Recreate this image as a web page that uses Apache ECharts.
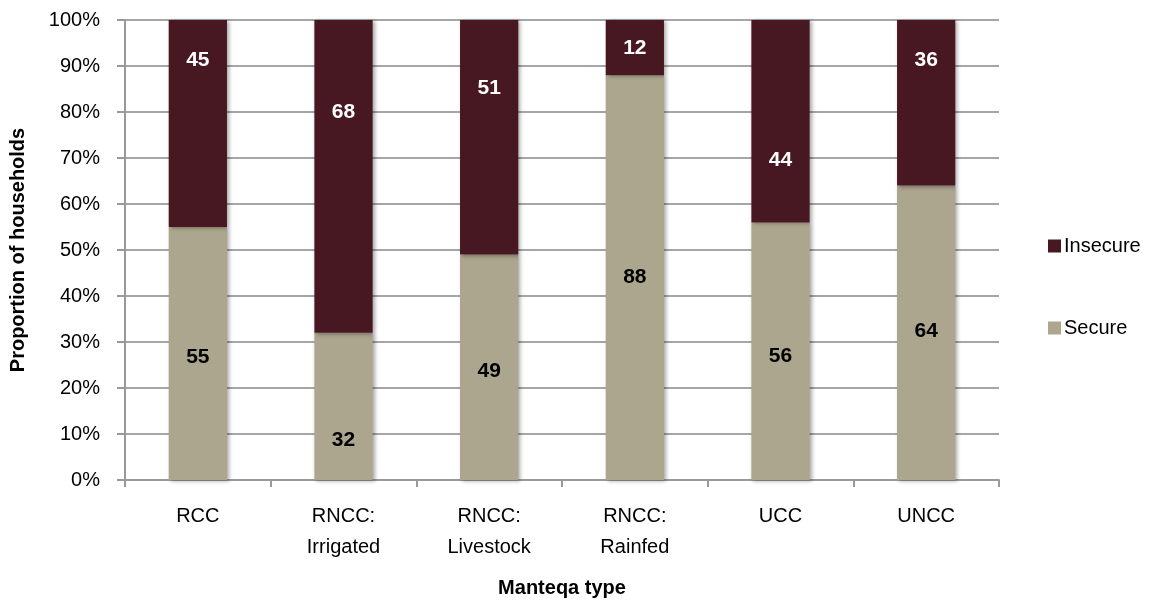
<!DOCTYPE html>
<html><head><meta charset="utf-8">
<script src="https://cdn.jsdelivr.net/npm/echarts@6/dist/echarts.min.js"></script>
<style>html,body{margin:0;padding:0;background:#fff}#c{width:1158px;height:602px}</style>
</head><body><div id="c"></div>
<script>
const categories = ['RCC', 'RNCC:\nIrrigated', 'RNCC:\nLivestock', 'RNCC:\nRainfed', 'UCC', 'UNCC'];
const secure = [55, 32, 49, 88, 56, 64];
const insecure = [45, 68, 51, 12, 44, 36];
const yTicks = [0, 10, 20, 30, 40, 50, 60, 70, 80, 90, 100];
// label nudges (px) to mimic the original hand-placed labels
const secureLabelShift = [4, 34, 4, 0, 5, -2];
const insecureLabelShift = [-63, -64, -49, 1, 39, -43];

const FONT = '"Liberation Sans", Arial, sans-serif';
const cSecure = '#ADA68E';
const cInsecure = '#471821';
const shadow = {shadowColor: 'rgba(0,0,0,0.35)', shadowBlur: 4, shadowOffsetX: 2, shadowOffsetY: 1};

function build(vals, shifts) {
  return vals.map((v, i) => ({value: v, label: {offset: [0, shifts[i]]}}));
}

const chart = echarts.init(document.getElementById('c'), null, {renderer: 'canvas'});
chart.setOption({
  animation: false,
  textStyle: {fontFamily: FONT},
  grid: {left: 125, right: 159, top: 20, bottom: 122, containLabel: false, outerBoundsMode: 'none'},
  legend: {
    orient: 'vertical', left: 1043, top: 231, itemWidth: 13, itemHeight: 13, itemGap: 62,
    icon: 'rect', data: ['Insecure', 'Secure'],
    textStyle: {fontFamily: FONT, fontSize: 20, color: '#000', padding: [0, 0, 0, -2]}
  },
  xAxis: {
    type: 'category', data: categories,
    name: 'Manteqa type', nameLocation: 'middle', nameGap: 98,
    nameTextStyle: {fontFamily: FONT, fontSize: 20, fontWeight: 'bold', color: '#000'},
    axisLine: {lineStyle: {color: '#999', width: 2}},
    axisTick: {show: true, length: 7, lineStyle: {color: '#999', width: 2}},
    axisLabel: {fontFamily: FONT, fontSize: 20, color: '#000', margin: 21, lineHeight: 31},
    splitLine: {show: false}
  },
  yAxis: {
    type: 'value', min: 0, max: 100, interval: 10,
    name: 'Proportion of households', nameLocation: 'middle', nameGap: 97,
    nameTextStyle: {fontFamily: FONT, fontSize: 20, fontWeight: 'bold', color: '#000'},
    axisLine: {show: true, lineStyle: {color: '#999', width: 2}},
    axisTick: {show: true, length: 8, lineStyle: {color: '#999', width: 2}},
    axisLabel: {fontFamily: FONT, fontSize: 20, color: '#000', margin: 25,
      formatter: v => yTicks.includes(v) ? v + '%' : ''},
    splitLine: {show: true, lineStyle: {color: '#a6a6a6', width: 2}}
  },
  series: [
    {
      name: 'Secure', type: 'bar', stack: 'a', barWidth: '40%',
      itemStyle: Object.assign({color: cSecure}, shadow),
      label: {show: true, position: 'inside', fontFamily: FONT, fontSize: 21, fontWeight: 'bold', color: '#000'},
      data: build(secure, secureLabelShift)
    },
    {
      name: 'Insecure', type: 'bar', stack: 'a', barWidth: '40%',
      itemStyle: Object.assign({color: cInsecure}, shadow),
      label: {show: true, position: 'inside', fontFamily: FONT, fontSize: 21, fontWeight: 'bold', color: '#fff'},
      data: build(insecure, insecureLabelShift)
    }
  ]
});
</script></body></html>
